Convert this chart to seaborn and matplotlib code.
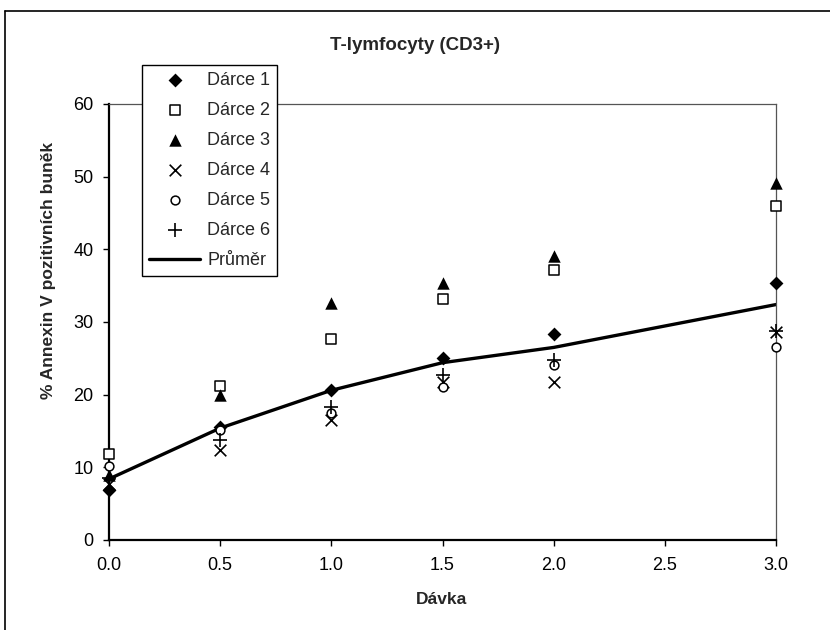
import matplotlib
matplotlib.use("Agg")
import matplotlib.pyplot as plt
from matplotlib.lines import Line2D
import seaborn as sns
import pandas as pd

# Dose levels and per-donor Annexin V positive fractions (%)
davka = [0.0, 0.5, 1.0, 1.5, 2.0, 3.0]
darce_1 = [6.9, 15.6, 20.6, 25.1, 28.3, 35.3]
darce_2 = [11.8, 21.2, 27.6, 33.2, 37.1, 45.9]
darce_3 = [9.0, 20.0, 32.6, 35.3, 39.1, 49.1]
darce_4 = [7.7, 12.4, 16.5, 21.7, 21.7, 28.6]
darce_5 = [10.2, 15.2, 17.5, 21.0, 24.1, 26.5]
darce_6 = [8.5, 13.7, 18.3, 22.7, 24.8, 28.8]
prumer = [8.4, 15.4, 20.6, 24.4, 26.5, 32.4]

serie = ["Dárce 1", "Dárce 2", "Dárce 3", "Dárce 4", "Dárce 5", "Dárce 6"]
hodnoty = [darce_1, darce_2, darce_3, darce_4, darce_5, darce_6]

sns.set_theme(style="white")
plt.rcParams["font.family"] = ["Liberation Sans", "DejaVu Sans"]

fig = plt.figure(figsize=(8.3, 6.3), dpi=100)
ax = fig.add_axes([109 / 830, 1 - 540 / 630, (776 - 109) / 830, (540 - 104) / 630])

# marker style per donor: (marker, face, size in points^2, linewidth)
styly = [
    ("D", "black", 50, 0.0),
    ("s", "white", 55, 1.1),
    ("^", "black", 80, 0.0),
    ("x", "black", 70, 1.2),
    ("o", "white", 40, 1.1),
    ("+", "black", 90, 1.2),
]

mean_df = pd.DataFrame({"Dávka": davka, "Průměr": prumer})
sns.lineplot(data=mean_df, x="Dávka", y="Průměr", ax=ax, color="black",
             linewidth=2.4, label="Průměr", zorder=2)

for name, vals, (m, face, s, lw) in zip(serie, hodnoty, styly):
    df = pd.DataFrame({"Dávka": davka, "Hodnota": vals})
    if m in ("x", "+"):
        sns.scatterplot(data=df, x="Dávka", y="Hodnota", ax=ax, marker=m,
                        color="black", s=s, linewidth=lw, label=name,
                        zorder=3, clip_on=False)
    else:
        sns.scatterplot(data=df, x="Dávka", y="Hodnota", ax=ax, marker=m,
                        facecolor=face, edgecolor="black", s=s,
                        linewidth=lw, label=name, zorder=3, clip_on=False)

ax.set_xlim(0, 3.0)
ax.set_ylim(0, 60)
ax.set_xticks([0.0, 0.5, 1.0, 1.5, 2.0, 2.5, 3.0])
ax.set_xticklabels(["0.0", "0.5", "1.0", "1.5", "2.0", "2.5", "3.0"])
ax.set_yticks([0, 10, 20, 30, 40, 50, 60])
ax.tick_params(axis="both", direction="out", length=4, width=1, color="black",
               labelsize=13, labelcolor="black", pad=7)
ax.tick_params(axis="x", pad=8)
ax.xaxis.set_ticks_position("bottom")
ax.yaxis.set_ticks_position("left")
ax.set_xlabel("")
ax.set_ylabel("")

for side in ("left", "bottom"):
    ax.spines[side].set_color("black")
    ax.spines[side].set_linewidth(1.6)
for side in ("top", "right"):
    ax.spines[side].set_color("#555555")
    ax.spines[side].set_linewidth(0.9)
ax.set_facecolor("white")

fig.text(415 / 830, 1 - 45 / 630, "T-lymfocyty (CD3+)", ha="center", va="center",
         fontsize=13.5, fontweight="bold")
fig.text(441 / 830, 1 - 600 / 630, "Dávka", ha="center", va="center",
         fontsize=12.5, fontweight="bold")
fig.text(48 / 830, 1 - 270 / 630, "% Annexin V pozitivních buněk", ha="center",
         va="center", rotation=90, fontsize=12.5, fontweight="bold")

handles, labels = ax.get_legend_handles_labels()
ax.legend_.remove()
order = serie + ["Průměr"]
hmap = dict(zip(labels, handles))
leg = fig.legend([hmap[k] for k in order], order, loc="upper left",
                 bbox_to_anchor=(142 / 830, 1 - 65 / 630), frameon=True,
                 fancybox=False, edgecolor="black", framealpha=1,
                 fontsize=13, handlelength=2.8, handletextpad=0.4,
                 labelspacing=0.72, borderpad=0.4, borderaxespad=0)
leg.get_frame().set_linewidth(1.0)

# chart area border
fig.add_artist(Line2D([5 / 830, 5 / 830], [0, 1 - 11 / 630], transform=fig.transFigure,
                      color="black", linewidth=1.2))
fig.add_artist(Line2D([5 / 830, 1], [1 - 11 / 630, 1 - 11 / 630], transform=fig.transFigure,
                      color="black", linewidth=1.2))

fig.savefig("out.png", dpi=100, facecolor="white")
